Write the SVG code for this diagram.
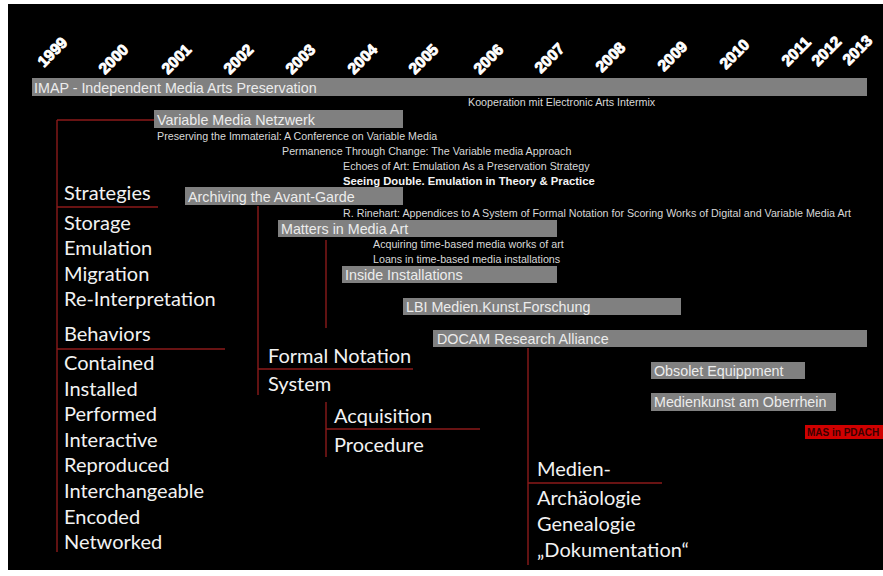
<svg xmlns="http://www.w3.org/2000/svg" width="883" height="576" viewBox="0 0 883 576">
<style>
.yr{font-family:"Liberation Sans",Arial,sans-serif;font-weight:bold;font-size:15.5px;fill:#fff;stroke:#fff;stroke-width:0.9;stroke-linejoin:round}
.bar{fill:#808080}
.bl{font-family:"Liberation Sans",Arial,sans-serif;font-size:14.3px;fill:#ececec}
.sm{font-family:"Liberation Sans",Arial,sans-serif;font-size:10.7px;fill:#d8d8d8}
.smb{font-family:"Liberation Sans",Arial,sans-serif;font-size:11.3px;font-weight:bold;fill:#f4f4f4}
.lt{font-family:Lato,"Open Sans",sans-serif;font-size:20px;fill:#f2f2f2}
.rl{stroke:#8a1a1a;stroke-width:1.4;fill:none}
</style>
<rect x="0" y="0" width="883" height="576" fill="#fff"/>
<rect x="8" y="4" width="875" height="566" fill="#000"/>

<g id="years">
<text class="yr" x="44" y="68" transform="rotate(-45 44 68)">1999</text>
<text class="yr" x="105" y="75" transform="rotate(-45 105 75)">2000</text>
<text class="yr" x="168" y="75" transform="rotate(-45 168 75)">2001</text>
<text class="yr" x="230" y="75" transform="rotate(-45 230 75)">2002</text>
<text class="yr" x="292" y="75" transform="rotate(-45 292 75)">2003</text>
<text class="yr" x="354" y="75" transform="rotate(-45 354 75)">2004</text>
<text class="yr" x="415" y="75" transform="rotate(-45 415 75)">2005</text>
<text class="yr" x="480" y="75" transform="rotate(-45 480 75)">2006</text>
<text class="yr" x="541" y="74" transform="rotate(-45 541 74)">2007</text>
<text class="yr" x="602" y="73" transform="rotate(-45 602 73)">2008</text>
<text class="yr" x="664" y="72" transform="rotate(-45 664 72)">2009</text>
<text class="yr" x="726" y="70" transform="rotate(-45 726 70)">2010</text>
<text class="yr" x="788" y="67" transform="rotate(-45 788 67)">2011</text>
<text class="yr" x="818" y="67" transform="rotate(-45 818 67)">2012</text>
<text class="yr" x="849" y="66" transform="rotate(-45 849 66)">2013</text>
</g>

<g id="connectors">
<path class="rl" d="M57 120 H154 M57 120 V552 M57 207 H158 M57 349 H225"/>
<path class="rl" d="M258 206 V395 M258 369 H413"/>
<path class="rl" d="M326 240 V328"/>
<path class="rl" d="M326 402 V457 M326 429 H480"/>
<path class="rl" d="M528 348 V565 M528 483 H662"/>
</g>

<g id="imap">
<rect class="bar" x="32" y="78" width="835" height="18"/>
<text class="bl" x="34" y="92.5">IMAP - Independent Media Arts Preservation</text>
<text class="sm" x="468" y="106">Kooperation mit Electronic Arts Intermix</text>
</g>

<g id="vmn">
<rect class="bar" x="154" y="110" width="249" height="18"/>
<text class="bl" x="157" y="124.5">Variable Media Netzwerk</text>
<text class="sm" x="157" y="139.5">Preserving the Immaterial: A Conference on Variable Media</text>
<text class="sm" x="282" y="155">Permanence Through Change: The Variable media Approach</text>
<text class="sm" x="343" y="169.5">Echoes of Art: Emulation As a Preservation Strategy</text>
<text class="smb" x="343" y="185">Seeing Double. Emulation in Theory &amp; Practice</text>
</g>

<g id="avantgarde">
<rect class="bar" x="185" y="187" width="218" height="18"/>
<text class="bl" x="188" y="201.5">Archiving the Avant-Garde</text>
<text class="sm" x="343" y="216.5">R. Rinehart: Appendices to A System of Formal Notation for Scoring Works of Digital and Variable Media Art</text>
</g>

<g id="matters">
<rect class="bar" x="278" y="220" width="279" height="17"/>
<text class="bl" x="281" y="233.5">Matters in Media Art</text>
<text class="sm" x="373" y="247.5">Acquiring time-based media works of art</text>
<text class="sm" x="373" y="262.5">Loans in time-based media installations</text>
</g>

<g id="inside">
<rect class="bar" x="342" y="266" width="215" height="17"/>
<text class="bl" x="345" y="279.5">Inside Installations</text>
</g>

<g id="lbi">
<rect class="bar" x="403" y="298" width="278" height="17"/>
<text class="bl" x="406" y="311.5">LBI Medien.Kunst.Forschung</text>
</g>

<g id="docam">
<rect class="bar" x="433" y="330" width="434" height="17"/>
<text class="bl" x="437" y="343.5">DOCAM Research Alliance</text>
</g>

<g id="obsolet">
<rect class="bar" x="651" y="362" width="154" height="17"/>
<text class="bl" x="654" y="375.5">Obsolet Equippment</text>
</g>

<g id="oberrhein">
<rect class="bar" x="651" y="393" width="185" height="18"/>
<text class="bl" x="654" y="407">Medienkunst am Oberrhein</text>
</g>

<g id="mas">
<rect x="805" y="425" width="78" height="14" fill="#d00000"/>
<text x="807" y="436" font-family="Liberation Sans,Arial,sans-serif" font-size="10" font-weight="bold" fill="#3a0000">MAS in PDACH</text>
</g>

<g id="strategies">
<text class="lt" x="64" y="200">Strategies</text>
<text class="lt" x="64" y="229.5">Storage</text>
<text class="lt" x="64" y="255">Emulation</text>
<text class="lt" x="64" y="280.5">Migration</text>
<text class="lt" x="64" y="306">Re-Interpretation</text>
</g>

<g id="behaviors">
<text class="lt" x="64" y="341">Behaviors</text>
<text class="lt" x="64" y="370">Contained</text>
<text class="lt" x="64" y="395.6">Installed</text>
<text class="lt" x="64" y="421">Performed</text>
<text class="lt" x="64" y="446.8">Interactive</text>
<text class="lt" x="64" y="472.4">Reproduced</text>
<text class="lt" x="64" y="498">Interchangeable</text>
<text class="lt" x="64" y="523.6">Encoded</text>
<text class="lt" x="64" y="549">Networked</text>
</g>

<g id="formal">
<text class="lt" x="268" y="363">Formal Notation</text>
<text class="lt" x="268" y="391">System</text>
</g>

<g id="acquisition">
<text class="lt" x="334" y="423">Acquisition</text>
<text class="lt" x="334" y="452">Procedure</text>
</g>

<g id="medien">
<text class="lt" x="537" y="476">Medien-</text>
<text class="lt" x="537" y="505">Archäologie</text>
<text class="lt" x="537" y="531">Genealogie</text>
<text class="lt" x="537" y="557">„Dokumentation“</text>
</g>
</svg>
